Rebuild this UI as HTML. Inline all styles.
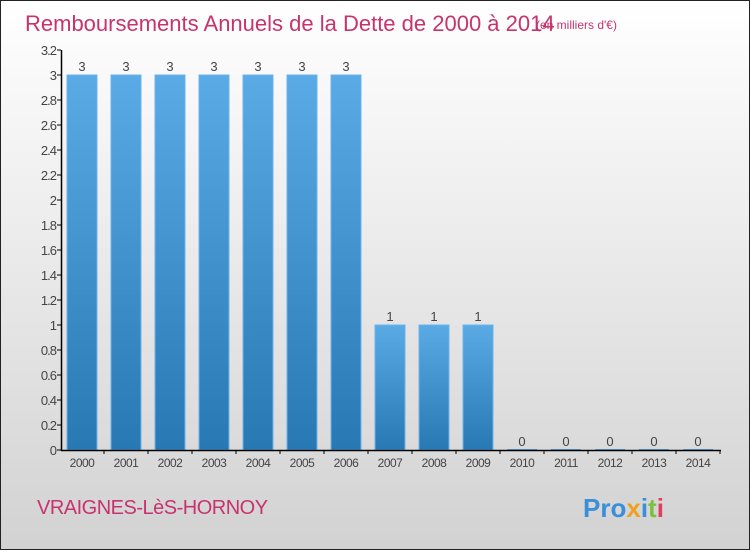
<!DOCTYPE html>
<html><head><meta charset="utf-8"><style>
body{margin:0;width:750px;height:550px;overflow:hidden}
#c{position:absolute;left:0;top:0;width:748px;height:548px;border:1px solid #222;background:linear-gradient(#ffffff,#d2d2d2)}
text{font-family:"Liberation Sans",sans-serif}
</style></head><body>
<div id="c">
<svg id="s" width="748" height="548"></svg>
</div>
<script>
const categories=["2000","2001","2002","2003","2004","2005","2006","2007","2008","2009","2010","2011","2012","2013","2014"];
const values=[3,3,3,3,3,3,3,1,1,1,0,0,0,0,0];
const tickValues=[0,0.2,0.4,0.6,0.8,1,1.2,1.4,1.6,1.8,2,2.2,2.4,2.6,2.8,3,3.2];
const tickLabels=["0","0.2","0.4","0.6","0.8","1","1.2","1.4","1.6","1.8","2","2.2","2.4","2.6","2.8","3","3.2"];
const s=document.getElementById('s');const NS='http://www.w3.org/2000/svg';
function mk(t,a,p){const e=document.createElementNS(NS,t);for(const k in a)e.setAttribute(k,a[k]);(p||s).appendChild(e);return e;}
const y0=449,yTop=49,yMax=3.2;
function y(v){return y0-(v/yMax)*(y0-yTop);}
function xc(i){return 81+i*44;}
const defs=mk('defs',{});
const g=mk('linearGradient',{id:'bg',x1:0,y1:0,x2:0,y2:1},defs);
mk('stop',{offset:'0','stop-color':'#5aaae6'},g);mk('stop',{offset:'1','stop-color':'#2878b4'},g);
let t=mk('text',{x:24,y:30,'font-size':22,fill:'#c8336e'});
t.textContent='Remboursements Annuels de la Dette de 2000 à 2014';


t=mk('text',{x:535,y:28,'font-size':12,fill:'#c8336e'});
t.textContent='(en milliers d\'€)';


tickValues.forEach((v,i)=>{
 const l=mk('line',{x1:56,x2:60,y1:y(v),y2:y(v),stroke:'#000'});
 
 
 const tx=mk('text',{x:55,y:y(v)+5,'font-size':13,fill:'#444','text-anchor':'end','letter-spacing':'-1'});
 tx.textContent=tickLabels[i];
 
 
});
categories.forEach((c,i)=>{
 const v=values[i];
 if(v>0){const r=mk('rect',{x:xc(i)-15,y:y(v),width:30,height:y0-y(v),fill:'url(#bg)',stroke:'#6ab4ee','stroke-width':1});
 
 }
 else{const r=mk('line',{x1:xc(i)-15,x2:xc(i)+15,y1:y0-0.5,y2:y0-0.5,stroke:'#5aaae6'});
 
 }
 const vl=mk('text',{x:xc(i),y:y(v)-4,'font-size':13,fill:'#444','text-anchor':'middle'});
 vl.textContent=String(v);
 
 
 const tk=mk('line',{x1:xc(i)+22,x2:xc(i)+22,y1:y0,y2:y0+4,stroke:'#000'});
 
 
 const xl=mk('text',{x:xc(i),y:466,'font-size':12,fill:'#444','text-anchor':'middle','letter-spacing':'-0.5'});
 xl.textContent=c;
 
 
});
let a=mk('line',{x1:60.5,x2:60.5,y1:y(3.2),y2:y0+1,stroke:'#000','stroke-width':1.5});


a=mk('line',{x1:60,x2:720,y1:y0+0.5,y2:y0+0.5,stroke:'#000','stroke-width':1.5});


t=mk('text',{x:36,y:513,'font-size':20,fill:'#c8336e','letter-spacing':'-0.5'});
t.textContent='VRAIGNES-LèS-HORNOY';


t=mk('text',{x:582,y:516,'font-size':26,'font-weight':'bold',fill:'#3a8fd8'});
t.innerHTML='<tspan fill="#3a8fd8">Pro</tspan><tspan fill="#f0a020">x</tspan><tspan fill="#3a8fd8">i</tspan><tspan fill="#7cc040">t</tspan><tspan fill="#e04060">i</tspan>';


</script>
</body></html>
